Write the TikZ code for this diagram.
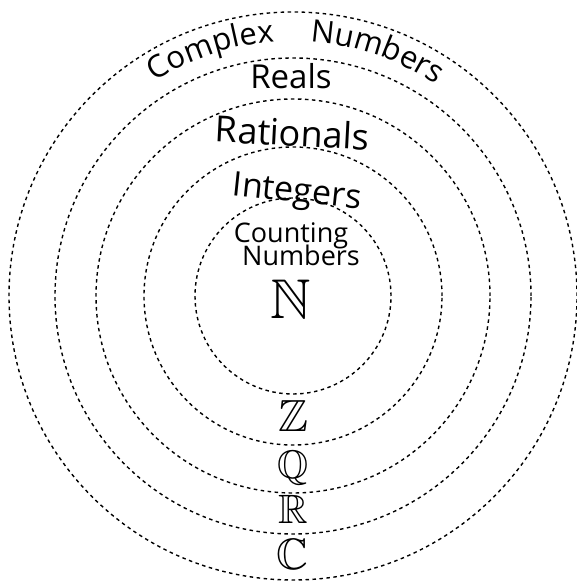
\documentclass[tikz,border=0pt]{standalone}
\usepackage{amssymb}
\usepackage{fontspec}
\setmainfont{Open Sans}
\usetikzlibrary{decorations.text}
\newcommand\hwfont[1]{\fontsize{#1}{#1}\selectfont}
\tikzset{
  ring/.style={draw=black, line width=1.4pt, dash pattern=on 3.5pt off 3.5pt},
  hand/.style={inner sep=0pt, anchor=base},
  bb/.style={inner sep=0pt, anchor=center}
}
\begin{document}
\begin{tikzpicture}[x=1pt,y=1pt]
\useasboundingbox (0,0) rectangle (577,586);
\coordinate (O) at (293,290);
\draw[ring] (O) circle[radius=98];
\draw[ring] (O) circle[radius=149];
\draw[ring] (O) circle[radius=197];
\draw[ring] (O) circle[radius=238];
\draw[ring] (O) circle[radius=284];
% Complex Numbers along an arc
\path[decorate, decoration={text along path, text align=center,
  text={|\hwfont{31}|Complex}}] (O) ++(123:255) arc[start angle=123, end angle=94, radius=255];
\path[decorate, decoration={text along path, text align=center,
  text={|\hwfont{31}|Numbers}}] (O) ++(86:255) arc[start angle=86, end angle=56, radius=255];
\node[hand, font=\hwfont{33}] (reals) at (291,497) {Reals};
\node[hand, font=\hwfont{36}, rotate=-3] (rat) at (292,440) {Rationals};
\node[hand, font=\hwfont{34}, rotate=-6] (int) at (296,384) {Integers};
\node[hand, font=\hwfont{27}] (count) at (291,343) {Counting};
\node[hand, font=\hwfont{27}] (numb) at (301,320) {Numbers};
\node[bb, font=\hwfont{56}] (N) at (291,287) {$\mathbb{N}$};
\node[bb, font=\hwfont{45}] (Z) at (293,169.5) {$\mathbb{Z}$};
\node[bb, font=\hwfont{40}] (Q) at (293,117.5) {$\mathbb{Q}$};
\node[bb, font=\hwfont{41}] (R) at (293,77) {$\mathbb{R}$};
\node[bb, font=\hwfont{44}] (C) at (292,32) {$\mathbb{C}$};
\end{tikzpicture}
\end{document}
